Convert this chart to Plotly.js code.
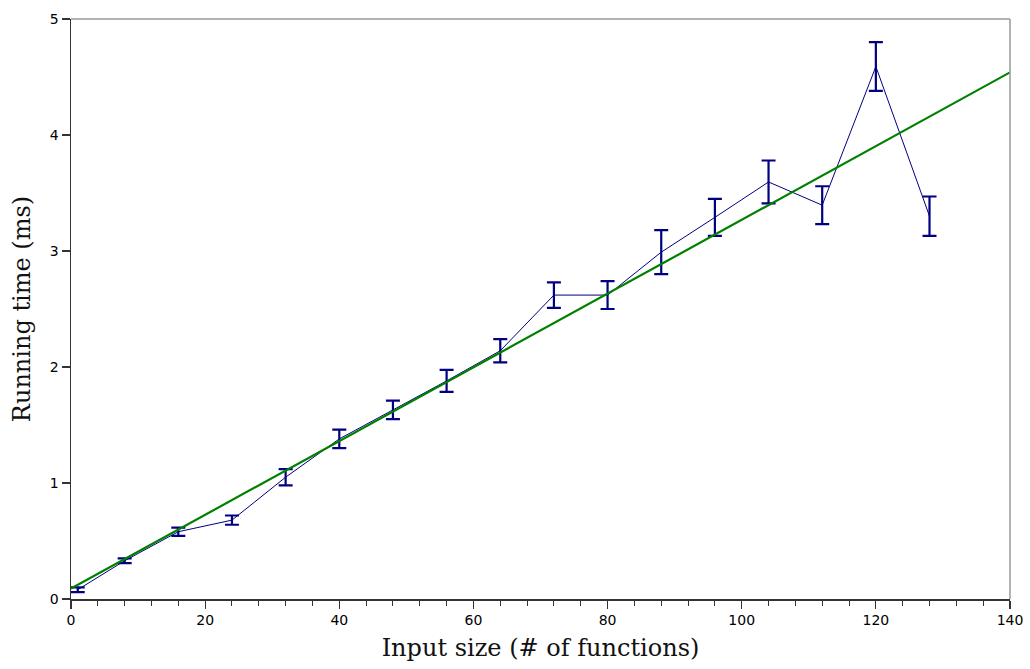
<!DOCTYPE html>
<html>
<head>
<meta charset="utf-8">
<script src="https://cdn.plot.ly/plotly-3.0.1.min.js"></script>
<style>html,body{margin:0;padding:0;background:#fff;}#chart{width:1030px;height:669px;}</style>
</head>
<body>
<div id="chart"></div>
<script>
// Measured data
const inputSize = [1, 8, 16, 24, 32, 40, 48, 56, 64, 72, 80, 88, 96, 104, 112, 120, 128];
const runTime   = [0.08, 0.33, 0.58, 0.68, 1.05, 1.38, 1.63, 1.88, 2.14, 2.62, 2.62, 2.99, 3.29, 3.595, 3.395, 4.59, 3.30];
const runErr    = [0.02, 0.02, 0.035, 0.04, 0.07, 0.08, 0.08, 0.095, 0.10, 0.11, 0.12, 0.19, 0.16, 0.185, 0.163, 0.21, 0.17];
// Linear fit
const fitX = [0, 140];
const fitY = [0.09, 4.54];
const xTicks = [0, 20, 40, 60, 80, 100, 120, 140];
const yTicks = [0, 1, 2, 3, 4, 5];

const traces = [
  {
    x: inputSize, y: runTime, type: 'scatter', mode: 'lines',
    line: {color: '#000080', width: 1},
    error_y: {type: 'data', array: runErr, visible: true, color: '#000080', thickness: 2.2, width: 7},
    hoverinfo: 'x+y', showlegend: false
  },
  {
    x: fitX, y: fitY, type: 'scatter', mode: 'lines',
    line: {color: '#008000', width: 2.2}, showlegend: false
  }
];

const serif = '"DejaVu Serif", "Liberation Serif", serif';
const layout = {
  width: 1030, height: 669,
  margin: {l: 71, r: 20, t: 19, b: 70},
  paper_bgcolor: '#fff', plot_bgcolor: '#fff',
  showlegend: false,
  xaxis: {
    range: [0, 140], tickvals: xTicks, ticktext: xTicks.map(String),
    showgrid: false, zeroline: false,
    showline: true, linecolor: '#333', linewidth: 1.5,
    ticks: 'outside', ticklen: 8, tickwidth: 1.2, tickcolor: '#333',
    minor: {dtick: 4, tick0: 0, ticks: 'outside', ticklen: 5, tickwidth: 1, tickcolor: '#333', showgrid: false},
    tickfont: {family: '"DejaVu Sans", sans-serif', size: 14, color: '#000'},
    title: {text: 'Input size (# of functions)', font: {family: serif, size: 24, color: '#111'}, standoff: 12}
  },
  yaxis: {
    range: [0, 5], tickvals: yTicks, ticktext: yTicks.map(String),
    showgrid: false, zeroline: false,
    showline: true, linecolor: '#333', linewidth: 1.5,
    ticks: 'outside', ticklen: 8, tickwidth: 1.2, tickcolor: '#333',
    tickfont: {family: '"DejaVu Sans", sans-serif', size: 14, color: '#000'},
    title: {text: 'Running time (ms)', font: {family: serif, size: 24, color: '#111'}, standoff: 12}
  },
  shapes: [
    {type: 'line', xref: 'paper', yref: 'paper', x0: 0, x1: 1, y0: 1, y1: 1, line: {color: '#999', width: 1.5}},
    {type: 'line', xref: 'paper', yref: 'paper', x0: 1, x1: 1, y0: 0, y1: 1, line: {color: '#999', width: 1.5}}
  ]
};

Plotly.newPlot('chart', traces, layout, {displayModeBar: false, staticPlot: true});
</script>
</body>
</html>
